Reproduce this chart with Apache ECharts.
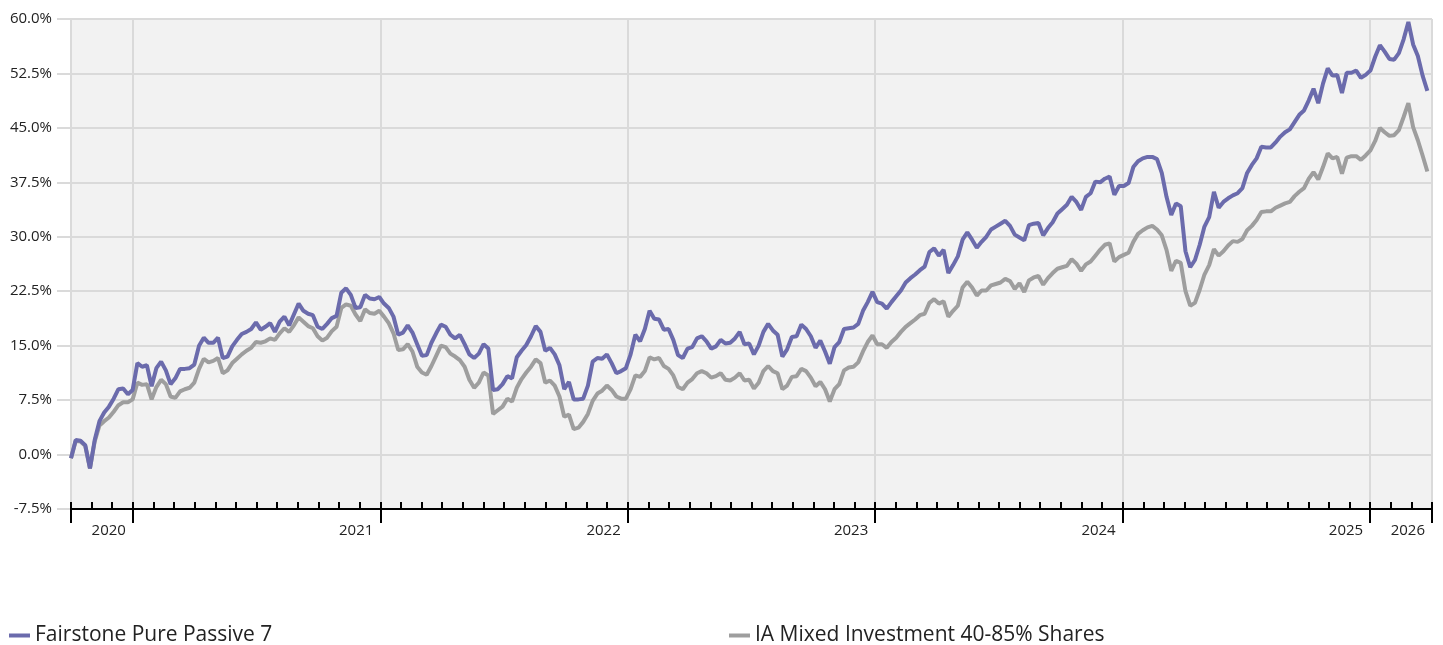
<!DOCTYPE html>
<html>
<head>
<meta charset="utf-8">
<title>Fairstone Pure Passive 7</title>
<script src="https://cdn.jsdelivr.net/npm/echarts@6/dist/echarts.min.js"></script>
<style>
  html, body { margin: 0; padding: 0; background: #fff; }
  #main { width: 1443px; height: 645px; }
</style>
</head>
<body>
<div id="main"></div>
<script>
var fundName = 'Fairstone Pure Passive 7';
var benchName = 'IA Mixed Investment 40-85% Shares';

// weekly cumulative performance (%)
var fundValues = [
  -0.5, 2.0, 1.9, 1.3, -1.9, 2.0, 4.6, 5.8, 6.6, 7.7,
  9.0, 9.1, 8.3, 8.9, 12.6, 12.1, 12.3, 9.4, 11.9, 12.8,
  11.6, 9.7, 10.5, 11.8, 11.8, 11.9, 12.4, 15.0, 16.1, 15.4,
  15.4, 16.1, 13.3, 13.5, 14.9, 15.8, 16.6, 16.9, 17.3, 18.2,
  17.2, 17.6, 18.1, 16.9, 18.3, 19.0, 17.8, 19.3, 20.8, 19.8,
  19.4, 19.2, 17.6, 17.3, 18.0, 18.8, 19.1, 22.3, 22.9, 22.0,
  20.2, 20.3, 22.0, 21.5, 21.4, 21.7, 20.8, 20.2, 19.0, 16.5,
  16.8, 17.8, 16.8, 15.2, 13.6, 13.7, 15.4, 16.7, 17.9, 17.6,
  16.5, 16.0, 16.5, 15.2, 13.8, 13.3, 13.9, 15.2, 14.6, 8.9,
  9.0, 9.7, 10.8, 10.5, 13.4, 14.3, 15.1, 16.3, 17.7, 16.9,
  14.3, 14.7, 13.8, 12.3, 9.0, 10.0, 7.6, 7.6, 7.7, 9.5,
  12.8, 13.3, 13.2, 13.8, 12.6, 11.2, 11.5, 11.9, 13.8, 16.5,
  15.6, 17.3, 19.8, 18.7, 18.6, 17.2, 17.3, 15.8, 13.7, 13.3,
  14.6, 14.8, 16.0, 16.3, 15.6, 14.6, 14.9, 15.8, 15.3, 15.4,
  16.0, 16.9, 15.2, 15.3, 13.8, 15.0, 16.9, 18.0, 17.1, 16.5,
  13.5, 14.5, 16.2, 16.3, 17.9, 17.3, 16.3, 14.7, 15.7, 14.2,
  12.5, 14.8, 15.5, 17.3, 17.4, 17.5, 18.0, 19.8, 21.0, 22.4,
  21.0, 20.8, 20.1, 21.0, 21.8, 22.6, 23.7, 24.3, 24.8, 25.4,
  25.9, 27.9, 28.4, 27.4, 28.2, 25.0, 26.1, 27.3, 29.6, 30.6,
  29.6, 28.5, 29.3, 30.0, 31.0, 31.4, 31.8, 32.2, 31.5, 30.3,
  29.9, 29.5, 31.6, 31.8, 31.9, 30.2, 31.2, 32.0, 33.2, 33.8,
  34.4, 35.5, 34.8, 33.7, 35.5, 36.0, 37.6, 37.5, 38.0, 38.3,
  35.8, 37.0, 37.0, 37.4, 39.6, 40.4, 40.8, 41.0, 41.0, 40.7,
  38.8, 35.5, 33.0, 34.6, 34.2, 28.0, 25.8, 26.8, 28.9, 31.4,
  32.7, 36.2, 34.0, 34.8, 35.3, 35.7, 36.0, 36.7, 38.8, 39.9,
  40.8, 42.4, 42.3, 42.3, 43.0, 43.8, 44.4, 44.8, 45.8, 46.8,
  47.4, 48.8, 50.4, 48.4, 51.1, 53.2, 52.2, 52.3, 49.8, 52.6,
  52.6, 52.9, 51.9, 52.3, 52.9, 54.8, 56.4, 55.5, 54.5, 54.4,
  55.3, 57.2, 59.6, 56.5, 54.9, 52.2, 50.1
];

var benchValues = [
  -0.5, 1.9, 1.8, 1.2, -1.9, 1.8, 4.0, 4.6, 5.1, 5.9,
  6.8, 7.2, 7.2, 7.6, 9.9, 9.6, 9.7, 7.6, 9.3, 10.3,
  9.7, 8.0, 7.8, 8.7, 9.0, 9.2, 9.9, 11.8, 13.2, 12.7,
  12.9, 13.3, 11.2, 11.6, 12.6, 13.2, 13.8, 14.3, 14.7, 15.5,
  15.4, 15.6, 16.0, 15.8, 16.7, 17.4, 16.9, 17.8, 18.9, 18.3,
  17.7, 17.4, 16.3, 15.7, 16.1, 17.0, 17.6, 20.2, 20.7, 20.5,
  19.3, 18.4, 20.0, 19.5, 19.4, 19.8, 19.0, 18.1, 16.7, 14.4,
  14.5, 15.2, 14.2, 12.1, 11.3, 11.0, 12.2, 13.6, 15.0, 14.8,
  13.9, 13.5, 13.0, 12.1, 10.3, 9.2, 9.9, 11.3, 10.9, 5.6,
  6.1, 6.6, 7.7, 7.3, 9.2, 10.4, 11.3, 12.1, 13.1, 12.6,
  9.9, 10.2, 9.5, 8.0, 5.2, 5.5, 3.5, 3.7, 4.5, 5.6,
  7.4, 8.4, 8.8, 9.5, 8.9, 8.0, 7.7, 7.7, 9.0, 10.9,
  10.7, 11.5, 13.4, 13.1, 13.3, 12.2, 11.8, 10.9, 9.3, 9.0,
  9.9, 10.4, 11.2, 11.5, 11.2, 10.6, 10.8, 11.2, 10.3, 10.2,
  10.6, 11.2, 10.2, 10.3, 9.1, 9.9, 11.5, 12.2, 11.5, 11.2,
  9.0, 9.5, 10.7, 10.8, 11.8, 11.5, 10.6, 9.4, 10.0, 9.0,
  7.3, 9.0, 9.7, 11.6, 12.0, 12.1, 12.7, 14.2, 15.5, 16.4,
  15.2, 15.2, 14.7, 15.5, 16.1, 16.9, 17.6, 18.1, 18.6, 19.2,
  19.4, 20.9, 21.4, 20.8, 21.1, 19.0, 19.8, 20.5, 23.0, 23.8,
  23.0, 21.9, 22.6, 22.6, 23.3, 23.5, 23.7, 24.2, 23.9, 22.8,
  23.6, 22.4, 24.0, 24.4, 24.6, 23.4, 24.3, 25.0, 25.6, 25.8,
  26.0, 26.9, 26.3, 25.3, 26.2, 26.6, 27.4, 28.2, 28.9, 29.1,
  26.6, 27.2, 27.5, 27.8, 29.3, 30.4, 30.9, 31.3, 31.5, 31.0,
  30.2, 28.2, 25.3, 26.7, 26.4, 22.5, 20.5, 20.9, 22.7, 24.8,
  26.1, 28.3, 27.4, 28.0, 28.8, 29.4, 29.3, 29.7, 30.9, 31.5,
  32.3, 33.4, 33.5, 33.5, 34.0, 34.3, 34.6, 34.8, 35.6, 36.2,
  36.7, 38.0, 38.9, 37.9, 39.6, 41.5, 40.8, 41.0, 38.7, 40.9,
  41.1, 41.1, 40.6, 41.2, 41.9, 43.2, 45.0, 44.4, 43.9, 44.0,
  44.7, 46.5, 48.4, 45.1, 43.3, 41.2, 39.0
];

// x axis runs in months from the first point
var yearTicks = [0, 3, 15, 27, 39, 51, 63, 66];
var yearLabelPos = [3, 15, 27, 39, 51, 63, 66];
var yearLabels = ['2020', '2021', '2022', '2023', '2024', '2025', '2026'];
var weekInMonths = 12 / 52.1786;

var font = '"Open Sans", sans-serif';

function toPoints(values) {
  return values.map(function (v, i) {
    return [i * weekInMonths, v];
  });
}

var myChart = echarts.init(document.getElementById('main'));

var option = {
  animation: false,
  textStyle: {fontFamily: font},
  grid: {
    left: 71, right: 11, top: 19, bottom: 136,
    show: true, backgroundColor: '#f2f2f2', borderWidth: 0
  },
  legend: [{
    data: [fundName],
    left: 9, top: 625, padding: 0,
    icon: 'rect', itemWidth: 21, itemHeight: 4,
    textStyle: {fontSize: 21, color: '#222', fontFamily: font}
  }, {
    data: [benchName],
    left: 729, top: 625, padding: 0,
    icon: 'rect', itemWidth: 21, itemHeight: 4,
    textStyle: {fontSize: 21, color: '#222', fontFamily: font}
  }],
  xAxis: [{
    type: 'value', min: 0, max: 66, position: 'bottom',
    axisLine: {show: true, onZero: false, lineStyle: {color: '#000', width: 2}},
    axisTick: {show: true, length: 14, customValues: yearTicks, lineStyle: {color: '#000', width: 2}},
    axisLabel: {
      customValues: yearLabelPos,
      formatter: function (v) {
        return yearLabels[yearLabelPos.indexOf(Math.round(v))];
      },
      align: 'right', padding: [0, 7, 0, 0], margin: 14,
      fontSize: 15, color: '#222', fontFamily: font
    },
    splitLine: {show: true, lineStyle: {color: '#dadada', width: 2}}
  }, {
    type: 'value', min: 0, max: 66, interval: 1, position: 'bottom',
    axisLine: {show: false, onZero: false},
    axisTick: {show: true, inside: true, length: 7, lineStyle: {color: '#000', width: 2}},
    axisLabel: {show: false},
    splitLine: {show: false}
  }],
  yAxis: {
    type: 'value', min: -7.5, max: 60, interval: 7.5,
    axisLine: {show: false},
    axisTick: {show: true, length: 14, lineStyle: {color: '#dadada', width: 2}},
    axisLabel: {
      formatter: function (v) { return v.toFixed(1) + '%'; },
      margin: 19, fontSize: 15, color: '#222', fontFamily: font
    },
    splitLine: {show: true, lineStyle: {color: '#dadada', width: 2}}
  },
  series: [{
    name: fundName, type: 'line', xAxisIndex: 0, z: 3,
    showSymbol: false, symbol: 'none',
    color: '#6b6bac',
    lineStyle: {width: 4, color: '#6b6bac'},
    data: toPoints(fundValues)
  }, {
    name: benchName, type: 'line', xAxisIndex: 0, z: 2,
    showSymbol: false, symbol: 'none',
    color: '#9e9e9e',
    lineStyle: {width: 4, color: '#9e9e9e'},
    data: toPoints(benchValues)
  }]
};

myChart.setOption(option);
</script>
</body>
</html>
